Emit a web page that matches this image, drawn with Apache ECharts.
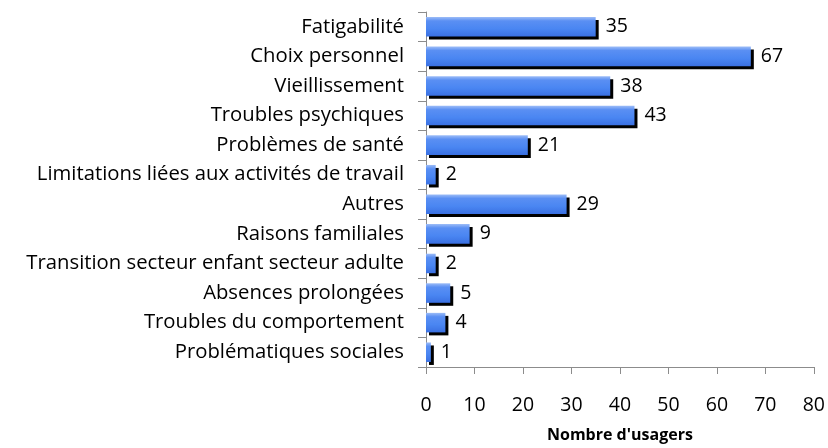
<!DOCTYPE html>
<html>
<head>
<meta charset="utf-8">
<script src="https://cdn.jsdelivr.net/npm/echarts@6/dist/echarts.min.js"></script>
<style>
  html, body { margin: 0; padding: 0; background: #fff; }
  #chart { width: 828px; height: 448px; }
</style>
</head>
<body>
<div id="chart"></div>
<script>
// categories, top to bottom as in the picture
var categories = [
  'Fatigabilité',
  'Choix personnel',
  'Vieillissement',
  'Troubles psychiques',
  'Problèmes de santé',
  'Limitations liées aux activités de travail',
  'Autres',
  'Raisons familiales',
  'Transition secteur enfant secteur adulte',
  'Absences prolongées',
  'Troubles du comportement',
  'Problématiques sociales'
]
var values = [35, 67, 38, 43, 21, 2, 29, 9, 2, 5, 4, 1]
var xTicks = { min: 0, max: 80, interval: 10 }
var xName = "Nombre d'usagers"

var myChart = echarts.init(document.getElementById('chart'))
var font = '"Open Sans", sans-serif'

var option = {
  animation: false,
  grid: { left: 426, right: 12, top: 12, bottom: 75 },
  xAxis: {
    type: 'value',
    min: xTicks.min,
    max: xTicks.max,
    interval: xTicks.interval,
    name: xName,
    nameLocation: 'middle',
    nameGap: 60,
    nameTextStyle: { fontFamily: font, fontWeight: 'bold', fontSize: 16, color: '#000' },
    axisLine: { show: true, lineStyle: { color: '#8c8c8c', width: 1 } },
    axisTick: { show: true, length: 7, lineStyle: { color: '#8c8c8c' } },
    axisLabel: { margin: 28, fontFamily: font, fontSize: 19.5, color: '#000' },
    splitLine: { show: false }
  },
  yAxis: {
    type: 'category',
    inverse: true,
    data: categories,
    axisLine: { show: true, lineStyle: { color: '#8c8c8c', width: 1 } },
    axisTick: { show: true, inside: false, length: 8, lineStyle: { color: '#8c8c8c' } },
    axisLabel: { margin: 22, fontFamily: font, fontSize: 20.3, color: '#000' }
  },
  series: [{
    type: 'bar',
    data: values,
    barWidth: '66%',
    itemStyle: {
      color: new echarts.graphic.LinearGradient(0, 0, 0, 1, [
        { offset: 0, color: '#9cbcf7' },
        { offset: 0.2, color: '#5a8ff3' },
        { offset: 0.6, color: '#4a86f2' },
        { offset: 1, color: '#3a70e2' }
      ]),
      shadowColor: '#000',
      shadowBlur: 0,
      shadowOffsetX: 3,
      shadowOffsetY: 3
    },
    label: {
      show: true,
      position: 'right',
      distance: 10,
      fontFamily: font,
      fontSize: 19.5,
      color: '#000'
    }
  }]
}
myChart.setOption(option, true)
window.addEventListener('resize', function () {
  myChart.resize()
})
</script>
</body>
</html>
